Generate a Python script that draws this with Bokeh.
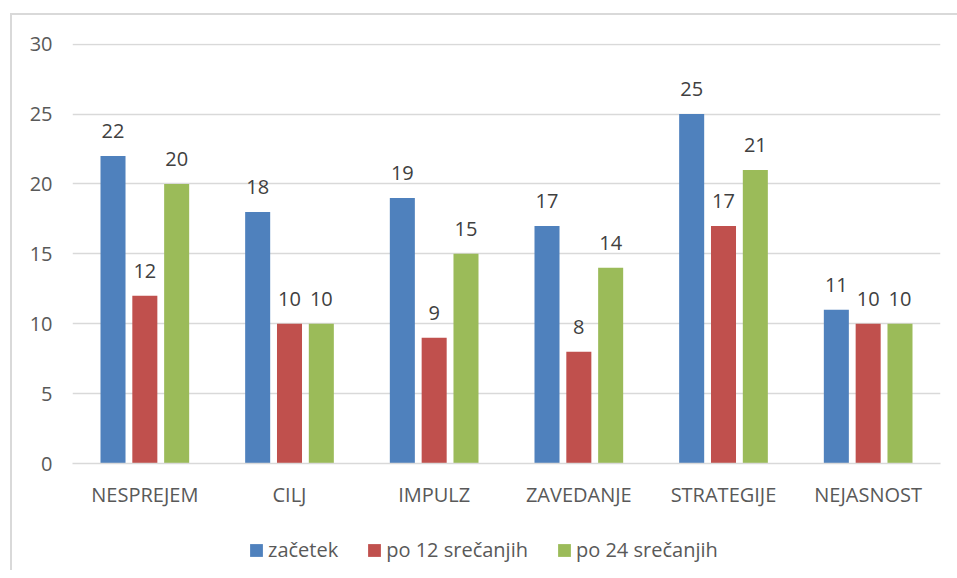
from bokeh.plotting import figure
from bokeh.models import ColumnDataSource, LabelSet, Legend, LegendItem, FactorRange, Range1d
from bokeh.layouts import column
from bokeh.transform import dodge
from bokeh.core.properties import value
from bokeh.embed import file_html
from bokeh.resources import INLINE

categories = ["NESPREJEM", "CILJ", "IMPULZ", "ZAVEDANJE", "STRATEGIJE", "NEJASNOST"]
zacetek = [22, 18, 19, 17, 25, 11]
po12 = [12, 10, 9, 8, 17, 10]
po24 = [20, 10, 15, 14, 21, 10]
series_names = ["začetek", "po 12 srečanjih", "po 24 srečanjih"]
colors = ["#4F81BD", "#C0504D", "#9BBB59"]
y_ticks = [0, 5, 10, 15, 20, 25, 30]

FONT = "Open Sans"
FS = "20px"
source = ColumnDataSource(dict(cat=categories, s0=zacetek, s1=po12, s2=po24))

p = figure(x_range=FactorRange(*categories, range_padding=0), y_range=(0, 30.05),
           width=957, height=510, output_backend="svg", toolbar_location=None,
           min_border_left=72, min_border_right=17, min_border_top=43, min_border_bottom=45)
p.border_fill_color = None
p.background_fill_color = None

offsets = [-0.22, 0.0, 0.22]
for i, key in enumerate(["s0", "s1", "s2"]):
    p.vbar(x=dodge("cat", offsets[i], range=p.x_range), top=key, width=0.173,
           source=source, fill_color=colors[i], line_color=None)
    labels = LabelSet(x=dodge("cat", offsets[i], range=p.x_range), y=key, text=key,
                      source=source, text_align="center", text_baseline="alphabetic",
                      y_offset=18, text_font=value(FONT), text_font_size=FS,
                      text_color="#404040")
    p.add_layout(labels)

p.outline_line_color = None
p.xgrid.grid_line_color = None
p.ygrid.grid_line_color = "#d9d9d9"
p.ygrid.grid_line_width = 1.5
p.yaxis.ticker = y_ticks
p.yaxis.axis_line_color = None
p.yaxis.major_tick_line_color = None
p.yaxis.minor_tick_line_color = None
p.yaxis.major_label_text_font = FONT
p.yaxis.major_label_text_font_size = FS
p.yaxis.major_label_text_color = "#595959"
p.yaxis.major_label_standoff = 14

p.xaxis.axis_line_color = "#d9d9d9"
p.xaxis.axis_line_width = 1.5
p.xaxis.major_tick_line_color = None
p.xaxis.minor_tick_line_color = None
p.xaxis.major_label_text_font = FONT
p.xaxis.major_label_text_font_size = FS
p.xaxis.major_label_text_color = "#595959"
p.xaxis.major_label_standoff = 11

# legend strip (its frame is aligned with the chart frame by the column layout)
p2 = figure(width=957, height=60, output_backend="svg", toolbar_location=None,
            x_range=Range1d(0, 1), y_range=Range1d(0, 1),
            x_axis_location=None, y_axis_location=None,
            min_border_left=72, min_border_right=17, min_border_top=0, min_border_bottom=0)
p2.border_fill_color = None
p2.background_fill_color = None
p2.outline_line_color = None
p2.xgrid.grid_line_color = None
p2.ygrid.grid_line_color = None
# legend swatches only: the marks sit outside the visible range
leg_renderers = [p2.vbar(x=[-5], top=[-5], width=0.1, fill_color=colors[i], line_color=None)
                 for i in range(3)]

legend = Legend(items=[LegendItem(label=series_names[i], renderers=[leg_renderers[i]]) for i in range(3)],
                orientation="horizontal", location=(176, 7),
                label_text_font=FONT, label_text_font_size=FS, label_text_color="#595959",
                glyph_width=16, glyph_height=16, spacing=28, label_standoff=4,
                border_line_color=None, background_fill_alpha=0, margin=0, padding=0)
p2.add_layout(legend, "center")

layout = column(p, p2, spacing=0)
layout.styles = {"background": "linear-gradient(#d9d9d9,#d9d9d9) 10px 13px / 2px 700px no-repeat, "
                               "linear-gradient(#d9d9d9,#d9d9d9) 10px 13px / 1200px 2px no-repeat, white"}

open("out.html", "w").write(file_html(layout, INLINE))
